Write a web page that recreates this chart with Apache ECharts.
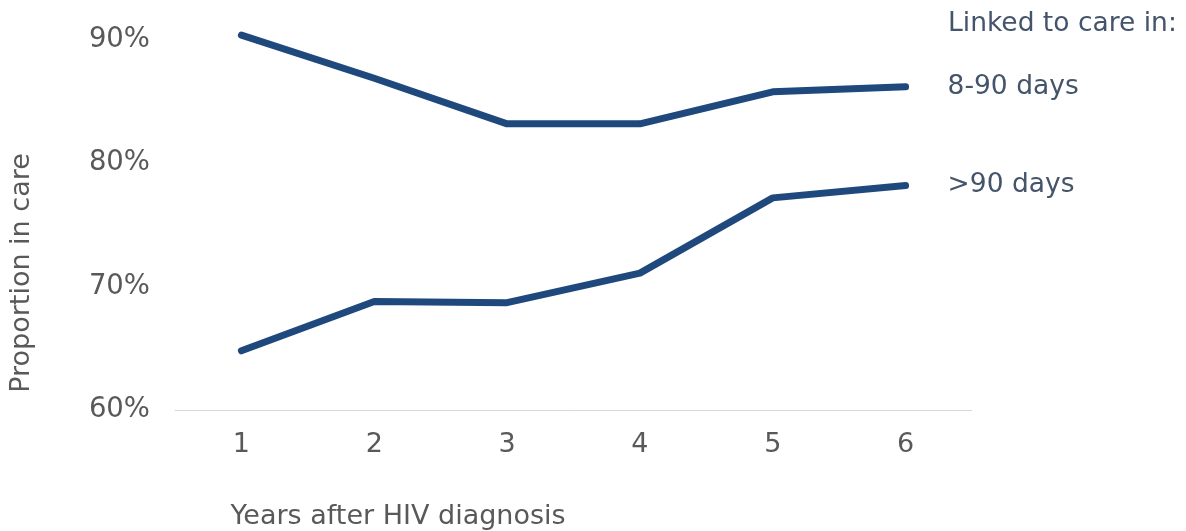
<!DOCTYPE html>
<html>
<head>
<meta charset="utf-8">
<script src="https://cdn.jsdelivr.net/npm/echarts@6/dist/echarts.min.js"></script>
<style>
  html, body { margin: 0; padding: 0; background: #fff; }
  #chart { width: 1186px; height: 531px; }
</style>
</head>
<body>
<div id="chart"></div>
<script>
(function() {
  var years = ['1', '2', '3', '4', '5', '6'];
  var days8to90 = [90.4, 86.9, 83.2, 83.2, 85.8, 86.2];
  var daysOver90 = [64.8, 68.8, 68.7, 71.1, 77.2, 78.2];
  var seriesNames = ['8-90 days', '>90 days'];

  var font = 'DejaVu Sans';
  var grey = '#595959';
  var slate = '#44546a';
  var lineColor = '#1f497d';

  var chart = echarts.init(document.getElementById('chart'), null, { renderer: 'canvas' });

  function lineSeries(name, data) {
    return {
      name: name,
      type: 'line',
      data: data,
      symbol: 'none',
      clip: false,
      lineStyle: { color: lineColor, width: 7, cap: 'round', join: 'round' },
      endLabel: {
        show: true,
        formatter: '{a}',
        distance: 42,
        color: slate,
        fontSize: 26.5,
        fontFamily: font
      }
    };
  }

  chart.setOption({
    animation: false,
    textStyle: { fontFamily: font },
    grid: { left: 175, right: 214, top: 40, bottom: 121 },
    xAxis: {
      type: 'category',
      data: years,
      boundaryGap: true,
      axisLine: { lineStyle: { color: '#d9d9d9', width: 1 } },
      axisTick: { show: false },
      axisLabel: { color: grey, fontSize: 27, fontFamily: font, margin: 21 }
    },
    yAxis: {
      type: 'value',
      min: 60,
      max: 90,
      interval: 10,
      axisLine: { show: false },
      axisTick: { show: false },
      splitLine: { show: false },
      axisLabel: {
        color: grey, fontSize: 27.5, fontFamily: font, margin: 25,
        padding: [5, 0, 0, 0],
        formatter: function(v) { return v + '%'; }
      }
    },
    series: [
      lineSeries(seriesNames[0], days8to90),
      lineSeries(seriesNames[1], daysOver90)
    ],
    graphic: [
      {
        type: 'text', x: 948, y: 24,
        style: { text: 'Linked to care in:', fill: slate, fontSize: 26.5, fontFamily: font, verticalAlign: 'middle' }
      },
      {
        type: 'text', x: 22, y: 273, rotation: Math.PI / 2,
        style: {
          text: 'Proportion in care', fill: grey, fontSize: 27, fontFamily: font,
          align: 'center', verticalAlign: 'middle'
        }
      },
      {
        type: 'text', x: 398, y: 517,
        style: {
          text: 'Years after HIV diagnosis', fill: grey, fontSize: 27, fontFamily: font,
          align: 'center', verticalAlign: 'middle'
        }
      }
    ]
  });
  window.addEventListener('resize', function() { chart.resize(); });
})();
</script>
</body>
</html>
